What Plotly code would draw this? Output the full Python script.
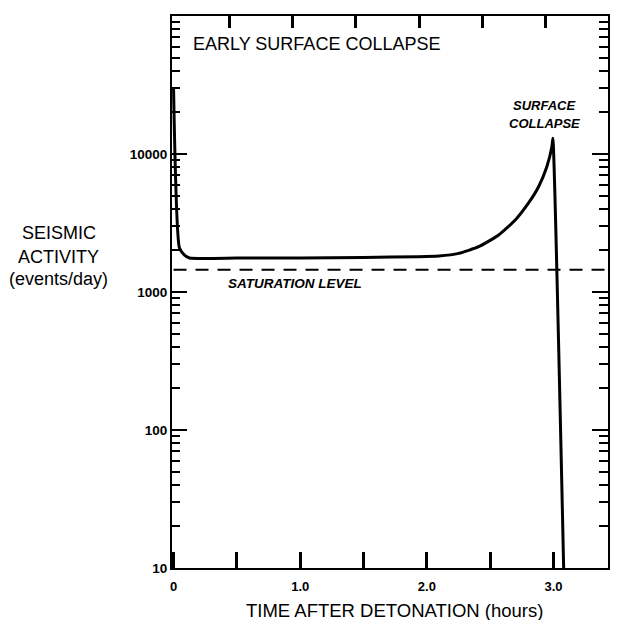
import plotly.graph_objects as go

# Data
time_h = [0.0, 0.047, 0.087, 0.126, 0.5, 1.0, 1.5, 1.937, 2.094, 2.252, 2.409, 2.567, 2.698,
          2.803, 2.882, 2.947, 2.987, 2.995, 3.08]
activity = [30600, 2080, 1850, 1763, 1760, 1765, 1780, 1803, 1824, 1905, 2128, 2588, 3325,
            4420, 5795, 8090, 11300, 13000, 10]
sat_time = [0.0, 3.5]
sat_level = [1450, 1450]

x_tickvals = [0, 0.5, 1.0, 1.5, 2.0, 2.5, 3.0]
x_ticktext = ["0", "", "1.0", "", "2.0", "", "3.0"]
y_tickvals = [10, 100, 1000, 10000]
y_ticktext = ["10", "100", "1000", "10000"]

FONT = "Liberation Sans"
INK = "#000000"
XR = [-0.012, 3.43]
YR = [1, 5]

fig = go.Figure()
fig.add_trace(go.Scatter(x=sat_time, y=sat_level, mode="lines",
                         line=dict(color=INK, width=2, dash="13px,9px"),
                         hoverinfo="skip"))
fig.add_trace(go.Scatter(x=time_h, y=activity, mode="lines",
                         line=dict(color=INK, width=3, shape="spline", smoothing=0.5),
                         hoverinfo="skip"))
# invisible helper trace so that the top/right tick axes are drawn
fig.add_trace(go.Scatter(x=[1], y=[100], xaxis="x2", yaxis="y2", mode="markers",
                         marker=dict(opacity=0), hoverinfo="skip"))

fig.update_layout(
    width=604, height=612,
    margin=dict(l=164, r=2, t=8, b=52),
    paper_bgcolor="white", plot_bgcolor="white",
    showlegend=False,
    font=dict(family=FONT, color=INK),
    xaxis=dict(range=XR, tickmode="array", tickvals=x_tickvals, ticktext=x_ticktext,
               ticks="inside", ticklen=16, tickwidth=2.5, tickcolor=INK,
               showline=True, linewidth=2, linecolor=INK, mirror=True,
               showgrid=False, zeroline=False, ticklabelstandoff=5,
               tickfont=dict(size=13, family=FONT, color=INK, weight="bold")),
    xaxis2=dict(range=[XR[0] + 0.06, XR[1] + 0.06], overlaying="x", side="top",
                tickmode="array", tickvals=x_tickvals, showticklabels=False,
                ticks="inside", ticklen=12, tickwidth=2.5, tickcolor=INK, showline=False,
                showgrid=False, zeroline=False),
    yaxis=dict(type="log", range=YR, tickmode="array", tickvals=y_tickvals, ticktext=y_ticktext,
               ticks="inside", ticklen=15, tickwidth=2.2, tickcolor=INK,
               showline=True, linewidth=2, linecolor=INK, mirror=True,
               showgrid=False, zeroline=False,
               tickfont=dict(size=13.5, family=FONT, color=INK, weight="bold"),
               minor=dict(dtick="D1", ticks="inside", ticklen=8, tickwidth=2,
                          tickcolor=INK, showgrid=False)),
    yaxis2=dict(type="log", range=YR, overlaying="y", side="right",
                tickmode="array", tickvals=y_tickvals, showticklabels=False,
                ticks="inside", ticklen=16, tickwidth=2.2, tickcolor=INK, showline=False,
                showgrid=False, zeroline=False,
                minor=dict(dtick="D1", ticks="inside", ticklen=9, tickwidth=2,
                           tickcolor=INK, showgrid=False)),
)

def hx(px):
    return (px - 174) / 127.0

def ly(py):
    return 1 + (568 - py) / 138.0

fig.add_annotation(x=hx(192), y=ly(43.5), xref="x", yref="y", text="EARLY SURFACE COLLAPSE",
                   showarrow=False, xanchor="left", yanchor="middle",
                   font=dict(size=18, family=FONT))
fig.add_annotation(x=hx(545), y=ly(105), xref="x", yref="y", text="<i><b>SURFACE</b></i>",
                   showarrow=False, xanchor="center", yanchor="middle",
                   font=dict(size=13, family=FONT))
fig.add_annotation(x=hx(546), y=ly(123), xref="x", yref="y", text="<i><b>COLLAPSE</b></i>",
                   showarrow=False, xanchor="center", yanchor="middle",
                   font=dict(size=13, family=FONT))
fig.add_annotation(x=hx(227), y=ly(283), xref="x", yref="y", text="<i><b>SATURATION LEVEL</b></i>",
                   showarrow=False, xanchor="left", yanchor="middle",
                   font=dict(size=13.5, family=FONT))
fig.add_annotation(x=hx(396), y=(568 - 610) / 552.0, xref="x", yref="paper",
                   text="TIME AFTER DETONATION (hours)",
                   showarrow=False, xanchor="center", yanchor="middle",
                   font=dict(size=18.5, family=FONT))
for txt, py in [("SEISMIC", 233), ("ACTIVITY", 257), ("(events/day)", 279)]:
    fig.add_annotation(x=(58 - 172) / 438.0, y=(568 - py) / 552.0, xref="paper", yref="paper",
                       text=txt, showarrow=False, xanchor="center", yanchor="middle",
                       font=dict(size=18, family=FONT))

fig.write_html("out.html")
